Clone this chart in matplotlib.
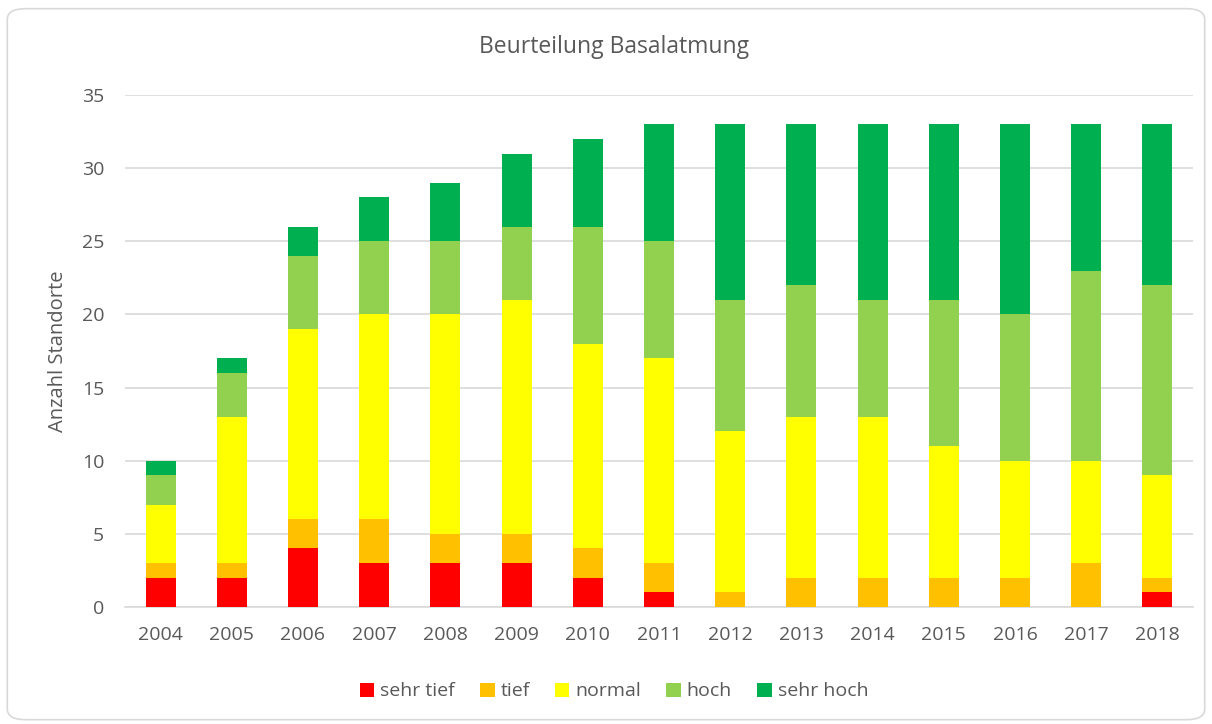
import matplotlib
matplotlib.use('Agg')
import matplotlib.pyplot as plt
from matplotlib.patches import FancyBboxPatch
import numpy as np

plt.rcParams['font.family'] = ['Open Sans', 'DejaVu Sans']

years = ['2004', '2005', '2006', '2007', '2008', '2009', '2010', '2011',
         '2012', '2013', '2014', '2015', '2016', '2017', '2018']
sehr_tief = [2, 2, 4, 3, 3, 3, 2, 1, 0, 0, 0, 0, 0, 0, 1]
tief = [1, 1, 2, 3, 2, 2, 2, 2, 1, 2, 2, 2, 2, 3, 1]
normal = [4, 10, 13, 14, 15, 16, 14, 14, 11, 11, 11, 9, 8, 7, 7]
hoch = [2, 3, 5, 5, 5, 5, 8, 8, 9, 9, 8, 10, 10, 13, 13]
sehr_hoch = [1, 1, 2, 3, 4, 5, 6, 8, 12, 11, 12, 12, 13, 10, 11]

series = [('sehr tief', sehr_tief, '#FF0000'),
          ('tief', tief, '#FFC000'),
          ('normal', normal, '#FFFF00'),
          ('hoch', hoch, '#92D050'),
          ('sehr hoch', sehr_hoch, '#00B050')]

text_col = '#595959'

fig = plt.figure(figsize=(12.12, 7.24), dpi=100)
ax = fig.add_axes([0.1031, 0.1616, 0.8812, 0.7072])

# rounded frame around the chart
frame = FancyBboxPatch((0.006, 0.006), 0.988, 0.982,
                       boxstyle='round,pad=0,rounding_size=0.015',
                       transform=fig.transFigure, facecolor='none',
                       edgecolor='#D9D9D9', linewidth=1.2)
fig.patches.append(frame)

x = np.arange(len(years))
bottom = np.zeros(len(years))
for label, vals, col in series:
    ax.bar(x, vals, width=0.42, bottom=bottom, color=col, label=label, zorder=3)
    bottom += np.array(vals)

ax.set_xlim(-0.5, len(years) - 0.5)
ax.set_ylim(0, 35)
ax.set_yticks(range(0, 36, 5))
ax.set_xticks(x)
ax.set_xticklabels(years)
ax.yaxis.grid(True, color='#D9D9D9', linewidth=1.2, zorder=0)
for s in ['top', 'right', 'left']:
    ax.spines[s].set_visible(False)
ax.spines['bottom'].set_color('#D9D9D9')
ax.spines['bottom'].set_linewidth(1.2)
ax.tick_params(length=0, labelsize=14, colors=text_col)
ax.tick_params(axis='x', pad=14)
ax.tick_params(axis='y', pad=15)

ax.set_ylabel('Anzahl Standorte', fontsize=14.5, color=text_col, labelpad=10)
fig.text(0.5066, 0.935, 'Beurteilung Basalatmung', ha='center', va='center',
         fontsize=16.5, color=text_col)

leg = fig.legend(loc='center', bbox_to_anchor=(0.5066, 0.045), ncol=5,
                 frameon=False, fontsize=14, handlelength=0.75,
                 handleheight=0.75, handletextpad=0.3, columnspacing=1.3)
for t in leg.get_texts():
    t.set_color(text_col)

fig.savefig('out.png', dpi=100)
